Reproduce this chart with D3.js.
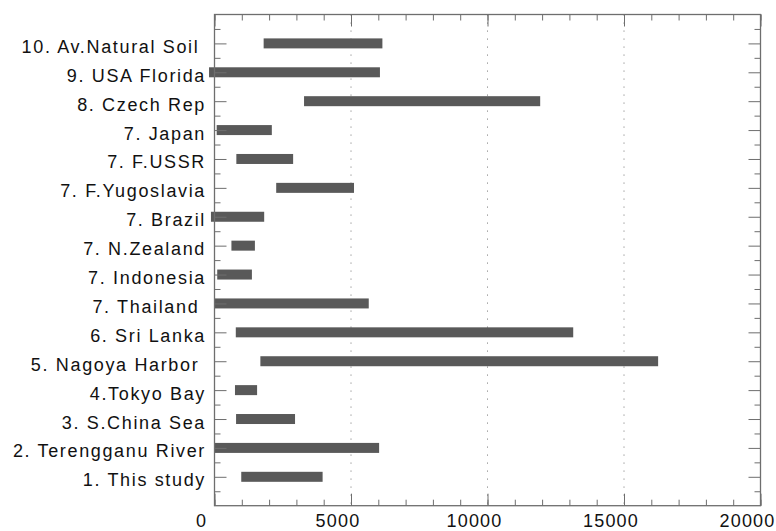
<!DOCTYPE html>
<html>
<head>
<meta charset="utf-8">
<script src="https://cdn.jsdelivr.net/npm/d3@7"></script>
<style>
  html, body { margin: 0; padding: 0; background: #fff; }
  svg { display: block; }
  text { font-family: "Liberation Sans", Arial, sans-serif; white-space: pre; }
</style>
</head>
<body>
<svg id="chart" width="776" height="531"></svg>
<script>
// Sites, listed top to bottom
const sites = [
  "10. Av.Natural Soil ",
  "9. USA Florida",
  "8. Czech Rep",
  "7. Japan",
  "7. F.USSR",
  "7. F.Yugoslavia",
  "7. Brazil",
  "7. N.Zealand",
  "7. Indonesia",
  "7. Thailand ",
  "6. Sri Lanka",
  "5. Nagoya Harbor ",
  "4.Tokyo Bay",
  "3. S.China Sea",
  "2. Terengganu River",
  "1. This study"
];
// Range of reported concentrations for each site (min, max)
const rangeMin = [1800, -200, 3280, 80, 800, 2260, -130, 620, 100, 0, 780, 1680, 750, 790, 0, 980];
const rangeMax = [6150, 6060, 11930, 2100, 2880, 5110, 1820, 1480, 1370, 5650, 13140, 16250, 1560, 2950, 6030, 3960];
const xTickValues = [0, 5000, 10000, 15000, 20000];

const svg = d3.select("#chart");
const plotLeft = 214.5, plotRight = 760.5, plotTop = 14.5, plotBottom = 505.7;

const x = d3.scaleLinear().domain([0, 20000]).range([plotLeft, plotRight]);
// Sites sit at 1..16 counted from the bottom, with half a slot padding each end
const y = d3.scaleLinear().domain([0, 17]).range([plotBottom, plotTop]);
const pos = i => sites.length - i;

const axisColor = "#6e6e6e";

// Dotted vertical grid at the major x ticks
svg.append("g")
  .selectAll("line")
  .data(xTickValues.filter(v => v > 0 && v < 20000))
  .join("line")
  .attr("x1", d => x(d)).attr("x2", d => x(d))
  .attr("y1", plotTop).attr("y2", plotBottom)
  .attr("stroke", "#8a8a8a")
  .attr("stroke-width", 1)
  .attr("stroke-dasharray", "1.2,6.8");

// Range bars
const barH = 10;
svg.append("g")
  .selectAll("rect")
  .data(sites)
  .join("rect")
  .attr("x", (d, i) => x(rangeMin[i]))
  .attr("width", (d, i) => x(rangeMax[i]) - x(rangeMin[i]))
  .attr("y", (d, i) => y(pos(i)) - barH / 2)
  .attr("height", barH)
  .attr("fill", "#595959");

// Tick marks on all four sides, pointing inward
const minorX = d3.range(0, 20001, 1000);
const majorX = xTickValues;
const halfY = d3.range(0.5, 17, 1);
const wholeY = d3.range(1, 17);

function styleAxis(g) {
  g.select(".domain").remove();
  g.selectAll(".tick line").attr("stroke", axisColor);
  g.selectAll(".tick text").remove();
}

// bottom
svg.append("g").attr("transform", `translate(0,${plotBottom})`)
  .call(d3.axisBottom(x).tickValues(minorX).tickSize(-6)).call(styleAxis);
svg.append("g").attr("transform", `translate(0,${plotBottom})`)
  .call(d3.axisBottom(x).tickValues(majorX).tickSize(-12)).call(styleAxis);
// top
svg.append("g").attr("transform", `translate(0,${plotTop})`)
  .call(d3.axisTop(x).tickValues(minorX).tickSize(-6)).call(styleAxis);
svg.append("g").attr("transform", `translate(0,${plotTop})`)
  .call(d3.axisTop(x).tickValues(majorX).tickSize(-12)).call(styleAxis);
// left
svg.append("g").attr("transform", `translate(${plotLeft},0)`)
  .call(d3.axisLeft(y).tickValues(halfY).tickSize(-6)).call(styleAxis);
svg.append("g").attr("transform", `translate(${plotLeft},0)`)
  .call(d3.axisLeft(y).tickValues(wholeY).tickSize(-12)).call(styleAxis);
// right
svg.append("g").attr("transform", `translate(${plotRight},0)`)
  .call(d3.axisRight(y).tickValues(halfY).tickSize(-6)).call(styleAxis);
svg.append("g").attr("transform", `translate(${plotRight},0)`)
  .call(d3.axisRight(y).tickValues(wholeY).tickSize(-12)).call(styleAxis);

// Frame
svg.append("rect")
  .attr("x", plotLeft).attr("y", plotTop)
  .attr("width", plotRight - plotLeft).attr("height", plotBottom - plotTop)
  .attr("fill", "none").attr("stroke", axisColor).attr("stroke-width", 1.3);

// Site labels
svg.append("g")
  .selectAll("text")
  .data(sites)
  .join("text")
  .attr("x", 206)
  .attr("y", (d, i) => y(pos(i)) + 9.5)
  .attr("text-anchor", "end")
  .attr("font-size", 18)
  .attr("letter-spacing", 1.65)
  .attr("fill", "#111")
  .text(d => d);

// X tick labels
svg.append("g")
  .selectAll("text")
  .data(xTickValues)
  .join("text")
  .attr("x", d => x(d) - 13)
  .attr("y", 526.5)
  .attr("text-anchor", "middle")
  .attr("font-size", 18)
  .attr("letter-spacing", 1.2)
  .attr("fill", "#111")
  .text(d => d);
</script>
</body>
</html>
